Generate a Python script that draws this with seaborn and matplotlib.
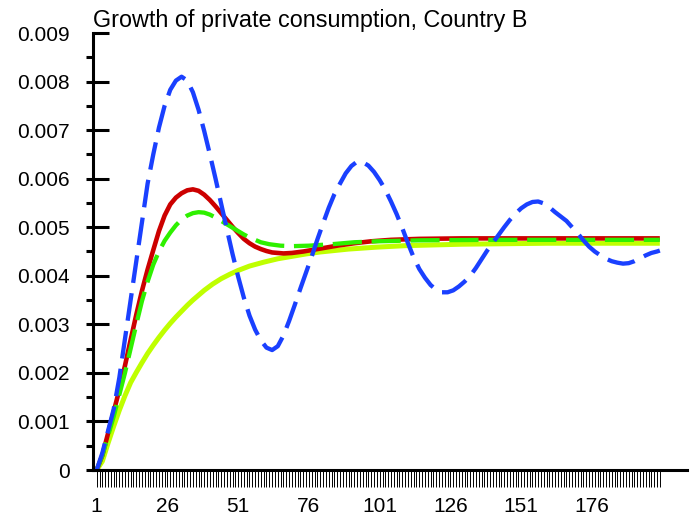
import numpy as np
import pandas as pd
import matplotlib
matplotlib.use("Agg")
import matplotlib.pyplot as plt
import seaborn as sns
from matplotlib.ticker import FixedLocator

# ---------------- data ----------------
title = "Growth of private consumption, Country B"

blue_t = [1, 3, 5, 7, 9, 11, 13, 15, 17, 19, 21, 23, 25, 27, 29, 31,
          33, 35, 37, 39, 41, 43, 45, 47, 49, 51, 53, 55, 57, 59, 61, 63,
          65, 67, 69, 71, 73, 75, 77, 79, 81, 83, 85, 87, 89, 91, 93, 95,
          97, 99, 101, 103, 105, 107, 109, 111, 113, 115, 117, 119, 121, 123, 125,
          127, 129, 131, 133, 135, 137, 139, 141, 143, 145, 147, 149, 151, 153, 155, 157, 159,
          161, 163, 165, 167, 169, 171, 173, 175, 177, 179, 181, 183, 185, 187, 189, 191,
          193, 195, 197, 199, 200]
blue_v = [0.0, 0.00035, 0.0008, 0.00125, 0.0019, 0.0027, 0.0035, 0.0043, 0.0051, 0.0059,
          0.0065, 0.00705, 0.0075, 0.00783, 0.00802, 0.0081,
          0.00802, 0.00778, 0.00742, 0.00698, 0.0065, 0.006, 0.00548, 0.00496, 0.00445,
          0.00398, 0.00355, 0.00318, 0.00289, 0.00267, 0.00252, 0.00247,
          0.00255, 0.00277, 0.00307, 0.0034, 0.00374, 0.00407, 0.0044, 0.00475, 0.00508,
          0.0054, 0.00568, 0.0059, 0.00611, 0.00626, 0.00635, 0.00634,
          0.00627, 0.00614, 0.00597, 0.00577, 0.00553, 0.00527, 0.00498, 0.00467, 0.00438,
          0.00414, 0.00396, 0.00381, 0.00371, 0.00366, 0.00366,
          0.0037, 0.00378, 0.00388, 0.004, 0.00416, 0.00434, 0.00452, 0.00468, 0.00484,
          0.005, 0.00515, 0.00528, 0.00539, 0.00547, 0.00552, 0.00553, 0.00549,
          0.00541, 0.00531, 0.00522, 0.00513, 0.005, 0.00487, 0.00473, 0.0046, 0.0045,
          0.00442, 0.00435, 0.0043, 0.00427, 0.00425, 0.00426, 0.0043,
          0.00436, 0.00442, 0.00447, 0.0045, 0.00452]

red_t = [1, 3, 5, 7, 9, 11, 13, 15, 17, 19, 21, 23, 25, 27, 29, 31, 33, 35, 37, 39,
         41, 43, 45, 47, 49, 51, 53, 55, 57, 59, 61, 63, 65, 67, 70, 74, 80, 86, 92, 98,
         105, 115, 130, 200]
red_v = [0.0, 0.0003, 0.00075, 0.0012, 0.00165, 0.00215, 0.00268, 0.0032, 0.00369,
         0.00413, 0.00453, 0.00492, 0.00524, 0.00547, 0.00561, 0.0057, 0.00576, 0.00578,
         0.00575, 0.00567, 0.00556, 0.00543, 0.00529, 0.00515, 0.00501, 0.00488, 0.00476,
         0.00467, 0.0046, 0.00455, 0.00451, 0.00448, 0.00447, 0.00446, 0.00447, 0.0045,
         0.00456, 0.00462, 0.00467, 0.00471, 0.00474, 0.00476, 0.00477, 0.00477]

green_t = [1, 3, 5, 7, 9, 11, 13, 15, 17, 19, 21, 23, 25, 27, 29, 31, 33, 35, 37, 39,
           41, 43, 45, 47, 49, 51, 53, 55, 57, 59, 62, 66, 70, 76, 84, 92, 100, 115, 140, 200]
green_v = [0.0, 0.0003, 0.0007, 0.0011, 0.00155, 0.002, 0.0025, 0.003, 0.00348, 0.00388,
           0.00423, 0.0045, 0.00472, 0.00489, 0.00504, 0.00516, 0.00524, 0.00529, 0.00531,
           0.0053, 0.00526, 0.0052, 0.00513, 0.00506, 0.00499, 0.00492, 0.00485, 0.00479,
           0.00474, 0.00469, 0.00465, 0.00462, 0.00461, 0.00462, 0.00465, 0.00469,
           0.00471, 0.00473, 0.00474, 0.00474]

yellow_t = [1, 3, 5, 7, 9, 11, 13, 15, 17, 19, 21, 23, 25, 27, 29, 31, 33, 35, 37, 39,
            42, 45, 48, 51, 55, 60, 65, 70, 75, 80, 90, 100, 110, 130, 160, 200]
yellow_v = [0.0, 0.00018, 0.00055, 0.0009, 0.00123, 0.00153, 0.0018, 0.00201, 0.00221,
            0.0024, 0.00257, 0.00273, 0.00288, 0.00302, 0.00315, 0.00327, 0.00339, 0.0035,
            0.0036, 0.0037, 0.00383, 0.00394, 0.00403, 0.00411, 0.0042, 0.00428, 0.00435,
            0.0044, 0.00445, 0.00449, 0.00455, 0.00459, 0.00462, 0.00465, 0.00467, 0.00467]

x_tick_labels = ["1", "26", "51", "76", "101", "126", "151", "176"]
y_ticks = [0, 0.001, 0.002, 0.003, 0.004, 0.005, 0.006, 0.007, 0.008, 0.009]
y_tick_labels = ["0", "0.001", "0.002", "0.003", "0.004", "0.005", "0.006", "0.007",
                 "0.008", "0.009"]

# ---------------- style ----------------
sns.set_style("white")
plt.rcParams["font.family"] = ["Liberation Sans", "DejaVu Sans"]
plt.rcParams["lines.scale_dashes"] = False
for k in ["text.color", "axes.labelcolor", "xtick.color", "ytick.color", "axes.edgecolor"]:
    plt.rcParams[k] = "black"

W, H = 696, 523
fig = plt.figure(figsize=(W / 100, H / 100), dpi=100)
ax = fig.add_axes([93 / W, 1 - 470 / H, (687 - 93) / W, (470 - 33) / H])

series = [
    (yellow_t, yellow_v, "#bfff00", 3.6, None),
    (red_t, red_v, "#cc0000", 3.3, None),
    (green_t, green_v, "#2ef000", 3.1, (21, 7)),
    (blue_t, blue_v, "#1a40ff", 3.1, (20, 7.5)),
]
for t, v, color, lw, dashes in series:
    df = pd.DataFrame({"t": t, "v": v})
    sns.lineplot(data=df, x="t", y="v", ax=ax, color=color, linewidth=lw,
                 estimator=None, sort=True)
    line = ax.lines[-1]
    line.set_solid_capstyle("butt")
    line.set_solid_joinstyle("round")
    if dashes is not None:
        line.set_dashes(dashes)
        line.set_dash_capstyle("butt")
        line.set_dash_joinstyle("round")

ax.set_xlim(-0.3, 209.6)
ax.set_ylim(0, 0.009)
ax.set_xlabel("")
ax.set_ylabel("")

for s in ["top", "right"]:
    ax.spines[s].set_visible(False)
for s in ["left", "bottom"]:
    ax.spines[s].set_linewidth(2.2)
    ax.spines[s].set_color("black")

# x ticks: every period, labels every 25
label_set = set(int(s) for s in x_tick_labels)
xt = list(range(1, 201))
ax.set_xticks(xt)
ax.set_xticklabels([str(i) if i in label_set else "" for i in xt])
ax.tick_params(axis="x", which="major", direction="out", length=12.2, width=0.7,
               pad=7, labelsize=15, bottom=True)

# y ticks
ax.set_yticks(y_ticks)
ax.set_yticklabels(y_tick_labels)
ax.tick_params(axis="y", which="major", direction="in", length=11.5, width=2.2,
               pad=16.5, labelsize=15, left=True)
ax.yaxis.set_minor_locator(FixedLocator([i * 0.0005 for i in range(18)]))
ax.yaxis.remove_overlapping_locs = False
ax.tick_params(axis="y", which="minor", direction="out", length=5, width=2.2, left=True)

fig.text(93 / W, 1 - 27 / H, title, fontsize=16.8, ha="left", va="baseline")

fig.savefig("out.png", dpi=100)
